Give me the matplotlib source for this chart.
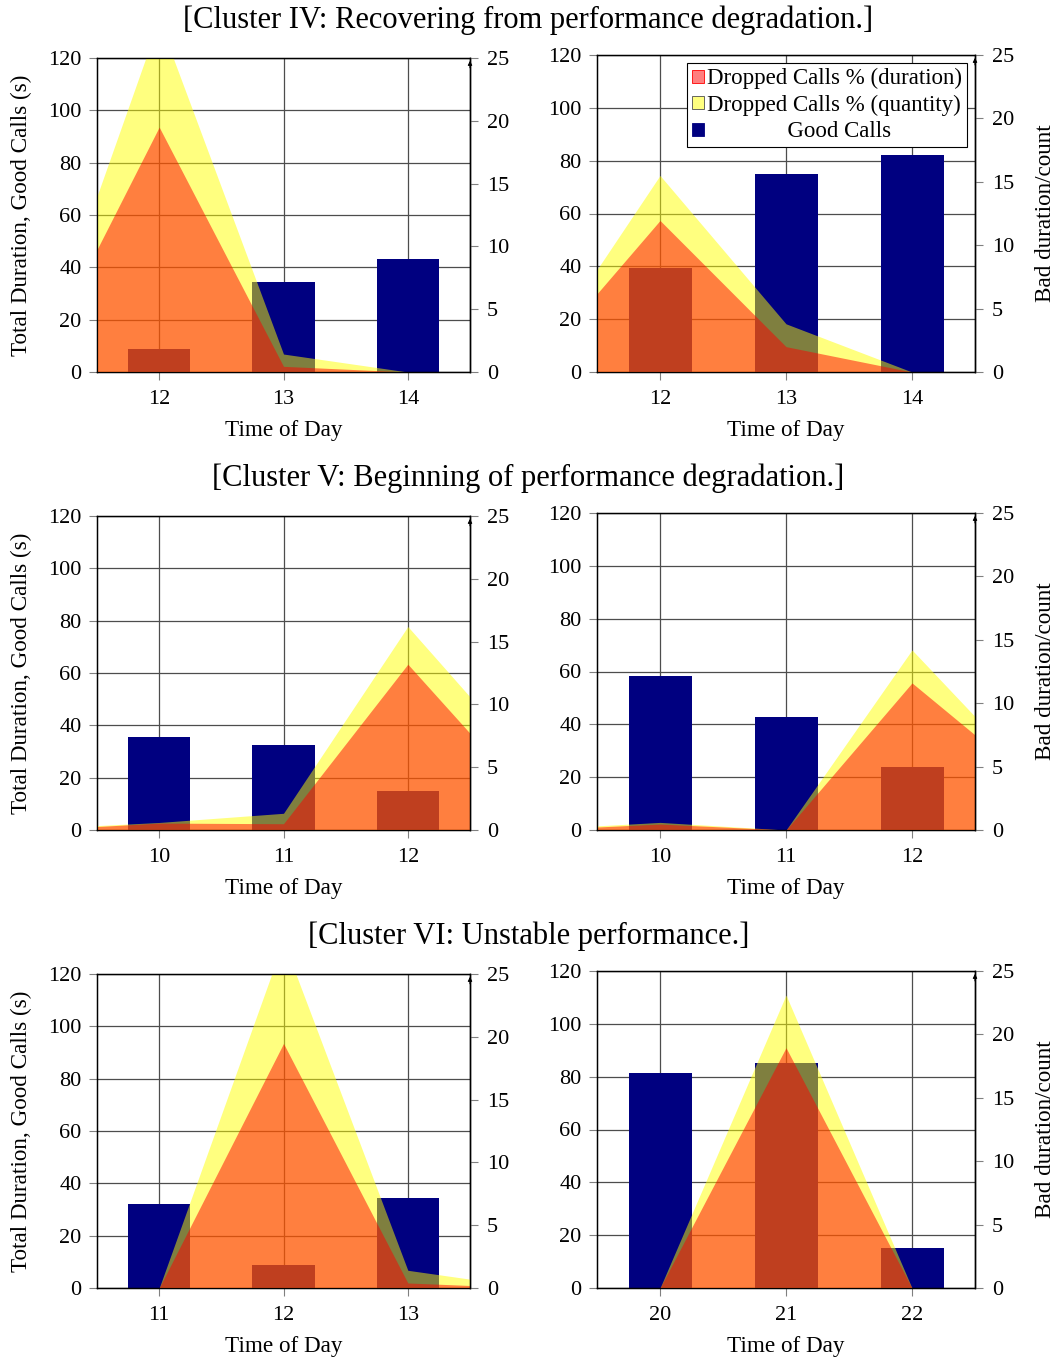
import numpy as np
import matplotlib
matplotlib.use('Agg')
import matplotlib.pyplot as plt
from matplotlib.patches import Patch

plt.rcParams['font.family'] = ['Liberation Serif', 'DejaVu Serif']
plt.rcParams['font.size'] = 16

# ---- data ----
# Cluster IV, left
hours_iv_a = [12, 13, 14]
good_iv_a = [8.9, 34.5, 43.3]
area_hours_iv_a = [11, 12, 13, 14, 15]
dur_iv_a = [0.0, 19.5, 0.45, 0.0, 0.0]
qty_iv_a = [0.0, 28.0, 1.43, 0.0, 0.0]

# Cluster IV, right
hours_iv_b = [12, 13, 14]
good_iv_b = [39.5, 75.0, 82.2]
area_hours_iv_b = [11, 12, 13, 14, 15]
dur_iv_b = [0.39, 11.95, 2.0, 0.0, 0.0]
qty_iv_b = [0.65, 15.5, 3.8, 0.0, 0.0]

# Cluster V, left
hours_v_a = [10, 11, 12]
good_v_a = [35.5, 32.4, 14.9]
area_hours_v_a = [9, 10, 11, 12, 13]
dur_v_a = [0.0, 0.55, 0.5, 13.2, 2.2]
qty_v_a = [0.1, 0.6, 1.33, 16.2, 5.0]

# Cluster V, right
hours_v_b = [10, 11, 12]
good_v_b = [58.3, 42.8, 23.9]
area_hours_v_b = [9, 10, 11, 12, 13]
dur_v_b = [0.0, 0.47, 0.0, 11.6, 3.4]
qty_v_b = [0.05, 0.6, 0.0, 14.2, 3.7]

# Cluster VI, left
hours_vi_a = [11, 12, 13]
good_vi_a = [32.0, 8.7, 34.3]
area_hours_vi_a = [10, 11, 12, 13, 14]
dur_vi_a = [0.0, 0.0, 19.47, 0.4, 0.0]
qty_vi_a = [0.0, 0.0, 27.6, 1.41, 0.0]

# Cluster VI, right
hours_vi_b = [20, 21, 22]
good_vi_b = [81.3, 85.1, 15.0]
area_hours_vi_b = [19, 20, 21, 22, 23]
dur_vi_b = [0.0, 0.0, 18.95, 0.0, 0.0]
qty_vi_b = [0.0, 0.0, 23.1, 0.0, 0.0]

titles = ['[Cluster IV: Recovering from performance degradation.]',
          '[Cluster V: Beginning of performance degradation.]',
          '[Cluster VI: Unstable performance.]']

panels = [
    (hours_iv_a, good_iv_a, area_hours_iv_a, dur_iv_a, qty_iv_a),
    (hours_iv_b, good_iv_b, area_hours_iv_b, dur_iv_b, qty_iv_b),
    (hours_v_a, good_v_a, area_hours_v_a, dur_v_a, qty_v_a),
    (hours_v_b, good_v_b, area_hours_v_b, dur_v_b, qty_v_b),
    (hours_vi_a, good_vi_a, area_hours_vi_a, dur_vi_a, qty_vi_a),
    (hours_vi_b, good_vi_b, area_hours_vi_b, dur_vi_b, qty_vi_b),
]

# pixel boxes (left, right, top, bottom)
W, H = 1057, 1362
boxes = [(97, 470, 58, 372), (597, 975, 55, 372),
         (97, 470, 516, 830), (597, 975, 513, 830),
         (97, 470, 974, 1288), (597, 975, 971, 1288)]
title_y = [20, 478, 936]

fig = plt.figure(figsize=(W / 100, H / 100), dpi=100)

for i, (hrs, good, ahrs, dur, qty) in enumerate(panels):
    l, r, t, b = boxes[i]
    ax = fig.add_axes([l / W, 1 - b / H, (r - l) / W, (b - t) / H])
    ax2 = ax.twinx()

    ax.bar(hrs, good, width=0.5, color='#000080', zorder=2)
    ax2.fill_between(ahrs, qty, color='#ffff00', alpha=0.5, lw=0)
    ax2.fill_between(ahrs, dur, color='#ff0000', alpha=0.5, lw=0)

    ax.set_xlim(hrs[0] - 0.5, hrs[-1] + 0.5)
    ax.set_xticks(hrs)
    ax.set_ylim(0, 120)
    ax.set_yticks(np.arange(0, 121, 20))
    ax2.set_ylim(0, 25)
    ax2.set_yticks(np.arange(0, 26, 5))

    ax.set_axisbelow(True)
    ax.grid(True, color='0.3', lw=0.9)
    ax.tick_params(direction='out', length=6, color='0.5', pad=5)
    ax.tick_params(axis='x', pad=7)
    ax2.tick_params(direction='out', length=6, color='0.5', pad=6)
    for sp in ax.spines.values():
        sp.set_linewidth(1.0)
    ax2.spines['right'].set_linewidth(1.0)
    ax2.annotate('', xy=(1, 1.0), xytext=(1, 0.96), xycoords='axes fraction',
                 arrowprops=dict(arrowstyle='-|>', lw=0.8, color='black',
                                 mutation_scale=6))

    ax.set_xlabel('Time of Day', labelpad=8, fontsize=16.7)
    if i % 2 == 0:
        ax.set_ylabel('Total Duration, Good Calls (s)', labelpad=12, fontsize=16.7)
    else:
        ax2.set_ylabel('Bad duration/count', labelpad=15, fontsize=16.7)

    if i == 1:
        handles = [Patch(facecolor=(1, 0, 0, 0.5), edgecolor='red', lw=0.6),
                   Patch(facecolor=(1, 1, 0, 0.5), edgecolor='0.3', lw=0.6),
                   Patch(facecolor='#000080', edgecolor='#000080', lw=0.6)]
        leg = ax2.legend(handles, ['Dropped Calls % (duration)',
                                   'Dropped Calls % (quantity)',
                                   '              Good Calls'],
                         loc='upper right', fontsize=16.5, fancybox=False,
                         framealpha=1, edgecolor='black',
                         handlelength=0.5, handleheight=0.5,
                         handletextpad=0.15, borderpad=0.22, labelspacing=0.24,
                         borderaxespad=0.35)
        leg.get_frame().set_linewidth(0.8)

for k, tt in enumerate(titles):
    fig.text(0.5, 1 - title_y[k] / H, tt, ha='center', va='center', fontsize=22)

fig.savefig('out.png', dpi=100)
